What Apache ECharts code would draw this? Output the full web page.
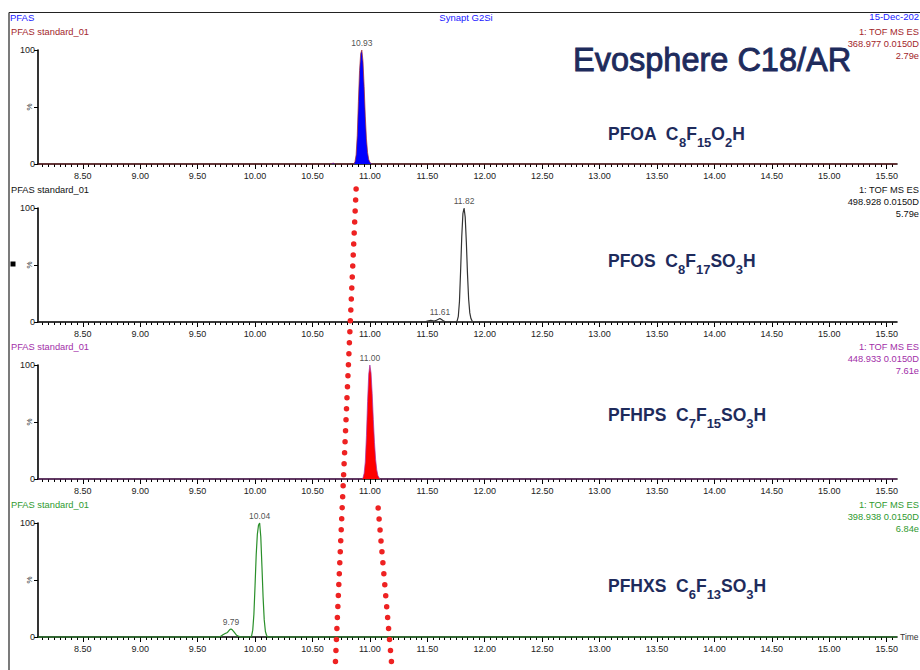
<!DOCTYPE html>
<html>
<head>
<meta charset="utf-8">
<script src="https://cdn.jsdelivr.net/npm/echarts@6/dist/echarts.min.js"></script>
<style>
html,body{margin:0;padding:0;background:#fff;}
#chart{width:920px;height:670px;}
</style>
</head>
<body>
<div id="chart"></div>
<script>
// ---- data (time in minutes, intensity in %) ----
const xMin = 8.11, xMax = 15.59;
const xTickLabels = [8.5, 9.0, 9.5, 10.0, 10.5, 11.0, 11.5, 12.0, 12.5, 13.0, 13.5, 14.0, 14.5, 15.0, 15.5];

const pfoaTrace = [[8.11,0],[10.66,0],[10.68,0.8],[10.70,0],[10.86,0],[10.87,2],[10.88,8],[10.89,25],[10.90,55],[10.91,82],[10.92,97],[10.93,100],[10.94,90],[10.95,68],[10.96,42],[10.97,22],[10.98,10],[10.99,4],[11.00,1.5],[11.01,0.5],[11.02,0],[15.59,0]];
const pfosTrace = [[8.11,0],[11.48,0],[11.50,0.8],[11.53,1.5],[11.56,0.8],[11.58,1.5],[11.61,3],[11.64,1],[11.66,0],[11.75,0],[11.76,1],[11.77,5],[11.78,18],[11.79,45],[11.80,75],[11.81,95],[11.82,100],[11.83,92],[11.84,70],[11.85,42],[11.86,20],[11.87,8],[11.88,3],[11.89,1],[11.90,0],[15.59,0]];
const pfhpsTrace = [[8.11,0],[10.93,0],[10.94,1],[10.95,5],[10.96,15],[10.97,38],[10.98,68],[10.99,92],[11.00,100],[11.01,93],[11.02,75],[11.03,52],[11.04,32],[11.05,17],[11.06,8],[11.07,3],[11.08,1],[11.09,0],[15.59,0]];
const pfhxsTrace = [[8.11,0],[9.68,0],[9.70,0.5],[9.72,2],[9.74,3],[9.76,4],[9.78,6.5],[9.79,7],[9.80,6.5],[9.82,4],[9.84,1.5],[9.86,0.5],[9.88,0],[9.96,0],[9.97,1],[9.98,6],[9.99,20],[10.00,45],[10.01,72],[10.02,90],[10.03,98],[10.04,100],[10.05,88],[10.06,62],[10.07,35],[10.08,15],[10.09,5],[10.10,1.5],[10.11,0],[15.59,0]];

const pfoaPeaks = [[10.93,100]];
const pfosPeaks = [[11.61,3],[11.82,100]];
const pfhpsPeaks = [[11.00,100]];
const pfhxsPeaks = [[9.79,7],[10.04,100]];

// red dotted guide lines: [time, row on page]
const guideA = [[10.88,189],[10.697,670]];
const guideB = [[11.072,508],[11.194,670]];

// header texts as visible in the (right-cropped) reference
const panelHeaders = [
  ['1: TOF MS ES','368.977 0.0150D','2.79e'],
  ['1: TOF MS ES','498.928 0.0150D','5.79e'],
  ['1: TOF MS ES','448.933 0.0150D','7.61e'],
  ['1: TOF MS ES','398.938 0.0150D','6.84e']
];
const sampleName = 'PFAS standard_01';

// ---- layout ----
const FONT = "'Liberation Sans', Arial, sans-serif";
const NAVY = '#1e2b5c';
const panels = [
  {top:50, bottom:506, color:'#a3262b', line:'#a3262b', lw:0.7, fill:'#0000ff', trace:pfoaTrace, peaks:pfoaPeaks, hy:32},
  {top:208, bottom:348, color:'#111111', line:'#333333', lw:1.2, fill:null, trace:pfosTrace, peaks:pfosPeaks, hy:190},
  {top:365, bottom:191, color:'#a22ea8', line:'#a22ea8', lw:0.7, fill:'#ff0000', trace:pfhpsTrace, peaks:pfhpsPeaks, hy:347},
  {top:523, bottom:33, color:'#2f9a2f', line:'#2a8f2a', lw:1.2, fill:null, trace:pfhxsTrace, peaks:pfhxsPeaks, hy:505}
];
const minorTicks = [];
for (let k = 163; k <= 311; k++) minorTicks.push(+(k*0.05).toFixed(2));

const grids = [], xAxes = [], yAxes = [], series = [];
panels.forEach((p, i) => {
  grids.push({left:38, right:23, top:p.top, bottom:p.bottom, containLabel:false, outerBoundsMode:'none'});
  xAxes.push({
    type:'value', gridIndex:i, min:xMin, max:xMax, position:'bottom',
    axisLine:{show:true, onZero:false, lineStyle:{color:'#000', width:1.6}},
    axisTick:{show:true, customValues:xTickLabels, length:5, lineStyle:{color:'#000', width:1}},
    axisLabel:{show:true, customValues:xTickLabels, formatter:v=>v.toFixed(2), fontSize:9, fontFamily:FONT, color:'#222', margin:7},
    splitLine:{show:false},
    name: i===3 ? 'Time' : '', nameLocation:'end', nameGap:3, nameMoveOverlap:false,
    nameTextStyle:{fontSize:8.5, fontFamily:FONT, color:'#333', verticalAlign:'middle'}
  });
  xAxes.push({
    type:'value', gridIndex:i, min:xMin, max:xMax, position:'bottom',
    axisLine:{show:false, onZero:false},
    axisTick:{show:true, customValues:minorTicks, length:3, lineStyle:{color:'#000', width:1}},
    axisLabel:{show:false}, splitLine:{show:false}
  });
  yAxes.push({
    type:'value', gridIndex:i, min:0, max:100, interval:50,
    name:'%', nameLocation:'middle', nameRotate:90, nameGap:5, nameMoveOverlap:false,
    nameTextStyle:{fontSize:8, fontFamily:FONT, color:'#333'},
    axisLine:{show:true, lineStyle:{color:'#000', width:1.6}},
    axisTick:{show:true, length:4, lineStyle:{color:'#000'}},
    axisLabel:{formatter:v=>v===50?'':String(v), fontSize:9, fontFamily:FONT, color:'#222', margin:3},
    splitLine:{show:false}
  });
  series.push({
    type:'line', xAxisIndex:2*i, yAxisIndex:i, data:p.trace, symbol:'none', smooth:false, clip:false,
    lineStyle:{color:p.line, width:p.lw}, areaStyle: p.fill ? {color:p.fill, opacity:1} : undefined,
    silent:true, z:3
  });
  series.push({
    type:'scatter', xAxisIndex:2*i, yAxisIndex:i, data:p.peaks, symbolSize:1, clip:false,
    itemStyle:{color:'rgba(0,0,0,0)'}, silent:true,
    label:{show:true, position:'top', distance:2, formatter:q=>q.value[0].toFixed(2), fontSize:8.5, fontFamily:FONT, color:'#222'},
    z:4
  });
});
// overlay grid for guide lines
grids.push({left:38, right:23, top:0, bottom:0, containLabel:false, outerBoundsMode:'none'});
xAxes.push({type:'value', gridIndex:4, min:xMin, max:xMax, show:false});
yAxes.push({type:'value', gridIndex:4, min:0, max:670, inverse:true, show:false});
[guideA, guideB].forEach(g => series.push({
  type:'line', xAxisIndex:8, yAxisIndex:4, data:g, symbol:'none', silent:true, z:10,
  lineStyle:{color:'#ee2222', width:5.5, type:[0,11], cap:'round'}
}));

// ---- text ----
const graphics = [
  {type:'line', shape:{x1:9, y1:12.5, x2:920, y2:12.5}, style:{stroke:'#222', lineWidth:1.2}, silent:true},
  {type:'line', shape:{x1:9, y1:12.5, x2:9, y2:670}, style:{stroke:'#222', lineWidth:1.2}, silent:true},
  {type:'rect', shape:{x:10.5, y:261.5, width:5, height:5}, style:{fill:'#000'}, silent:true},
  {type:'text', x:10, y:17.5, style:{text:'PFAS', fill:'#2020ff', fontSize:9.5, fontFamily:FONT, align:'left', verticalAlign:'middle'}},
  {type:'text', x:466, y:17.5, style:{text:'Synapt G2Si', fill:'#2020ff', fontSize:9.5, fontFamily:FONT, align:'center', verticalAlign:'middle'}},
  {type:'text', x:919, y:16.5, style:{text:'15-Dec-202', fill:'#2020ff', fontSize:9.5, fontFamily:FONT, align:'right', verticalAlign:'middle'}},
  {type:'text', x:573, y:60, style:{text:'Evosphere C18/AR', fill:NAVY, stroke:NAVY, lineWidth:0.9, fontSize:32.5, fontFamily:FONT, align:'left', verticalAlign:'middle'}}
];
panels.forEach((p, i) => {
  graphics.push({type:'text', x:11, y:p.hy, style:{text:sampleName, fill:p.color, fontSize:9.3, fontFamily:FONT, align:'left', verticalAlign:'middle'}});
  panelHeaders[i].forEach((t, j) => graphics.push({type:'text', x:919, y:p.hy + j*11.8, style:{text:t, fill:p.color, fontSize:9.3, fontFamily:FONT, align:'right', verticalAlign:'middle'}}));
});
const rich = {
  m:{fontSize:17.5, fontWeight:'bold', fontFamily:FONT, fill:NAVY, lineHeight:31},
  s:{fontSize:13, fontWeight:'bold', fontFamily:FONT, fill:NAVY, lineHeight:14, verticalAlign:'bottom'}
};
const formulas = [
  ['{m|PFOA  C}{s|8}{m|F}{s|15}{m|O}{s|2}{m|H}', 140],
  ['{m|PFOS  C}{s|8}{m|F}{s|17}{m|SO}{s|3}{m|H}', 267],
  ['{m|PFHPS  C}{s|7}{m|F}{s|15}{m|SO}{s|3}{m|H}', 421],
  ['{m|PFHXS  C}{s|6}{m|F}{s|13}{m|SO}{s|3}{m|H}', 592]
];
formulas.forEach(f => graphics.push({type:'text', x:608, y:f[1]-22, style:{text:f[0], rich:rich, fill:NAVY, align:'left', verticalAlign:'top'}}));

const chart = echarts.init(document.getElementById('chart'), null, {renderer:'svg'});
chart.setOption({
  animation:false,
  backgroundColor:'#fff',
  grid:grids, xAxis:xAxes, yAxis:yAxes, series:series, graphic:graphics
});
</script>
</body>
</html>
